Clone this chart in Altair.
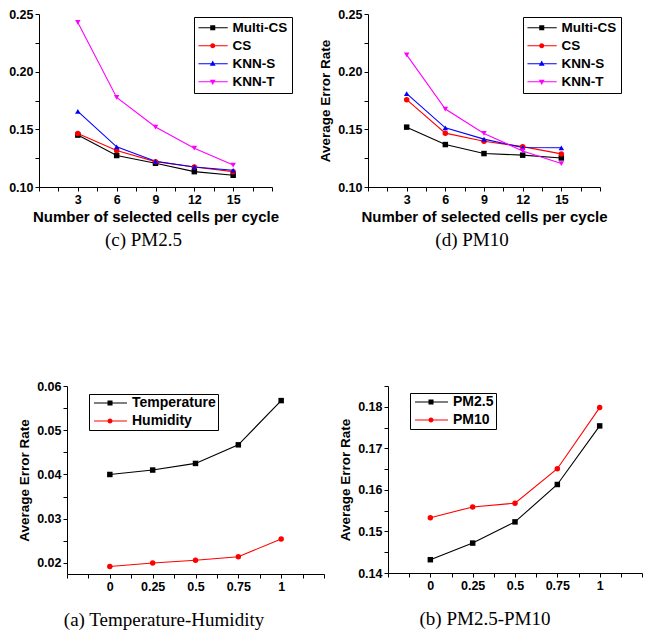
import altair as alt
import pandas as pd

# ---------------- data ----------------
cells = [3, 6, 9, 12, 15]
series_cs = ["Multi-CS", "CS", "KNN-S", "KNN-T"]

pm25_multics = [0.1450, 0.1273, 0.1206, 0.1133, 0.1102]
pm25_cs = [0.1464, 0.1316, 0.1220, 0.1174, 0.1133]
pm25_knns = [0.1656, 0.1348, 0.1223, 0.1174, 0.1145]
pm25_knnt = [0.2427, 0.1777, 0.1520, 0.1337, 0.1190]

pm10_multics = [0.1519, 0.1368, 0.1290, 0.1276, 0.1252]
pm10_cs = [0.1757, 0.1467, 0.1397, 0.1350, 0.1287]
pm10_knns = [0.1809, 0.1513, 0.1415, 0.1342, 0.1340]
pm10_knnt = [0.2146, 0.1676, 0.1464, 0.1313, 0.1203]

weights = [0, 0.25, 0.5, 0.75, 1]
series_th = ["Temperature", "Humidity"]
temperature = [0.0400, 0.0410, 0.0425, 0.0467, 0.0567]
humidity = [0.0192, 0.0200, 0.0206, 0.0214, 0.0254]

series_pm = ["PM2.5", "PM10"]
pm25_w = [0.1432, 0.1472, 0.1523, 0.1613, 0.1754]
pm10_w = [0.1533, 0.1559, 0.1568, 0.1651, 0.1798]

# axis tick positions
x_cells_ticks = [0, 1.5, 3, 4.5, 6, 7.5, 9, 10.5, 12, 13.5, 15, 16.5, 18]
y_err_ticks = [0.1, 0.125, 0.15, 0.175, 0.2, 0.225, 0.25]
x_w_ticks = [-0.25, -0.125, 0, 0.125, 0.25, 0.375, 0.5, 0.625, 0.75, 0.875, 1, 1.125, 1.25]
y_th_ticks = [0.02, 0.025, 0.03, 0.035, 0.04, 0.045, 0.05, 0.055, 0.06]
y_pm_ticks = [0.14, 0.145, 0.15, 0.155, 0.16, 0.165, 0.17, 0.175, 0.18, 0.185]

SANS = "Liberation Sans"
SERIF = "Liberation Serif"


def long_df(xs, names, arrays):
    rows = []
    for n, arr in zip(names, arrays):
        for x, v in zip(xs, arr):
            rows.append({"x": x, "value": v, "series": n})
    return pd.DataFrame(rows)


def legend_path(kind, x0, x1, m, h=0.42, t=0.085):
    line = f"M{x0},{-t}H{x1}V{t}H{x0}Z"
    if kind == "square":
        mk = f"M{m-h},{-h}H{m+h}V{h}H{m-h}Z"
    elif kind == "circle":
        mk = f"M{m+h},0A{h},{h} 0 1,1 {m-h},0A{h},{h} 0 1,1 {m+h},0Z"
    elif kind == "up":
        mk = f"M{m},{-h*1.25}L{m+h*1.15},{h*0.8}H{m-h*1.15}Z"
    else:
        mk = f"M{m},{h*1.25}L{m-h*1.15},{-h*0.8}H{m+h*1.15}Z"
    return line + mk


def panel(df, names, colors, shapes, kinds, lp, xdom, xvals, xexpr, xtitle,
          ydom, yvals, yexpr, ytitle, ytp, width, height, leg, caption, cap_dx, cap_off,
          shift=0):
    # shift: how far the plot area starts to the left of the view's origin
    xscale = alt.Scale(domain=xdom, nice=False, zero=False, range=[-shift, width - shift])
    x = alt.X("x:Q", scale=xscale,
              axis=alt.Axis(values=xvals, labelExpr=xexpr), title=xtitle)
    y = alt.Y("value:Q", scale=alt.Scale(domain=ydom, nice=False, zero=False),
              axis=alt.Axis(values=yvals, labelExpr=yexpr, titlePadding=ytp, offset=shift),
              title=ytitle)
    cscale = alt.Scale(domain=names, range=colors)
    lines = alt.Chart(df).mark_line(strokeWidth=1.1).encode(
        x=x, y=y, color=alt.Color("series:N", scale=cscale, legend=None),
        order="x:Q")
    pts = alt.Chart(df).mark_point(filled=True, opacity=1, size=30).encode(
        x=x, y=y, color=alt.Color("series:N", scale=cscale, legend=None),
        shape=alt.Shape("series:N", scale=alt.Scale(domain=names, range=shapes), legend=None))
    paths = [legend_path(k, lp[0], lp[1], lp[2]) for k in kinds]
    legend = alt.Legend(
        title=None, orient="none", legendX=leg["x"] - shift, legendY=leg["y"],
        strokeColor="black", fillColor="white",
        padding=leg["pad"], rowPadding=leg["rowpad"], labelOffset=leg["laboff"],
        labelFont=SANS, labelFontSize=leg["fs"], labelFontWeight="bold",
        labelColor="black", labelLimit=300, symbolSize=144, symbolStrokeWidth=0)
    leg_layer = alt.Chart(df).transform_filter("false").mark_point(
        filled=True, opacity=1, size=144).encode(
        color=alt.Color("series:N", scale=cscale, legend=legend),
        shape=alt.Shape("series:N", scale=alt.Scale(domain=names, range=paths), legend=legend))
    view_w = width - shift
    # caption centred on the plot area, then nudged by cap_dx
    dx = cap_dx + (width / 2.0 - shift) - view_w / 2.0
    return alt.layer(lines, pts, leg_layer).resolve_scale(
        color="independent", shape="independent").properties(
        width=view_w, height=height,
        title=alt.TitleParams(caption, orient="bottom", frame="group", anchor="middle",
                              font=SERIF, fontSize=19, fontWeight="normal", color="black",
                              dx=dx, offset=cap_off))


cells_xexpr = "datum.value % 3 === 0 && datum.value > 0 && datum.value < 18 ? format(datum.value, 'd') : ''"
err_yexpr = "abs(datum.value * 20 - round(datum.value * 20)) < 1e-6 ? format(datum.value, '.2f') : ''"
w_xexpr = "datum.value >= 0 && datum.value <= 1 && abs(datum.value * 4 - round(datum.value * 4)) < 1e-6 ? format(datum.value, '~g') : ''"
pct_yexpr = "abs(datum.value * 100 - round(datum.value * 100)) < 1e-6 ? format(datum.value, '.2f') : ''"

colors4 = ["#000000", "#FF0000", "#0000FF", "#FF00FF"]
shapes4 = ["square", "circle", "triangle-up", "triangle-down"]
kinds4 = ["square", "circle", "up", "down"]
colors2 = ["#000000", "#FF0000"]
shapes2 = ["square", "circle"]
kinds2 = ["square", "circle"]

leg_top = {"x": 155, "y": 3, "pad": 4, "rowpad": 3, "laboff": 21, "fs": 13.5}
leg_bot = {"x": 22, "y": 8, "pad": 2, "rowpad": 4, "laboff": 27, "fs": 14}
lp_top = (-1.05, 3.83, 1.33)
lp_bot = (-0.67, 4.83, 2.0)

df_c = long_df(cells, series_cs, [pm25_multics, pm25_cs, pm25_knns, pm25_knnt])
df_d = long_df(cells, series_cs, [pm10_multics, pm10_cs, pm10_knns, pm10_knnt])
df_a = long_df(weights, series_th, [temperature, humidity])
df_b = long_df(weights, series_pm, [pm25_w, pm10_w])

xt = "Number of selected cells per cycle"
yt = "Average Error Rate"

pc = panel(df_c, series_cs, colors4, shapes4, kinds4, lp_top, [0, 18], x_cells_ticks, cells_xexpr, xt,
           [0.1, 0.25], y_err_ticks, err_yexpr, None, 5, 233, 173, leg_top, "(c) PM2.5", -12, 6,
           shift=28)
pd_ = panel(df_d, series_cs, colors4, shapes4, kinds4, lp_top, [0, 18], x_cells_ticks, cells_xexpr, xt,
            [0.1, 0.25], y_err_ticks, err_yexpr, yt, 5, 232, 173, leg_top, "(d) PM10", -12, 6,
            shift=20)
pa = panel(df_a, series_th, colors2, shapes2, kinds2, lp_bot, [-0.25, 1.25], x_w_ticks, w_xexpr, None,
           [0.0175, 0.06], y_th_ticks, pct_yexpr, yt, 5, 257, 188, leg_bot, "(a) Temperature-Humidity", -31.5, 18)
pb_leg = dict(leg_bot)
pb_leg["y"] = 7
pb = panel(df_b, series_pm, colors2, shapes2, kinds2, lp_bot, [-0.25, 1.25], x_w_ticks, w_xexpr, None,
           [0.14, 0.185], y_pm_ticks, pct_yexpr, yt, 5, 254, 187, pb_leg, "(b) PM2.5-PM10", -30, 18)

chart = alt.concat(pc, pd_, pa, pb, columns=2, bounds="flush",
                   spacing={"row": 199, "column": 64}).properties(
    padding={"left": 0, "top": 0, "right": 0, "bottom": 0}
).configure_view(stroke=None).configure_axis(
    domainColor="black", domainWidth=1, tickColor="black", tickWidth=1, tickSize=4,
    labelFont=SANS, labelFontWeight="bold", labelFontSize=12.5, labelColor="black",
    labelPadding=2, labelOverlap=False, labelFlush=False,
    titleFont=SANS, titleFontWeight="bold", titleColor="black", grid=False
).configure_axisX(titleFontSize=15, titlePadding=4).configure_axisY(
    titleFontSize=13.5)

chart.save("out.html", embed_options={"renderer": "svg", "actions": False})
